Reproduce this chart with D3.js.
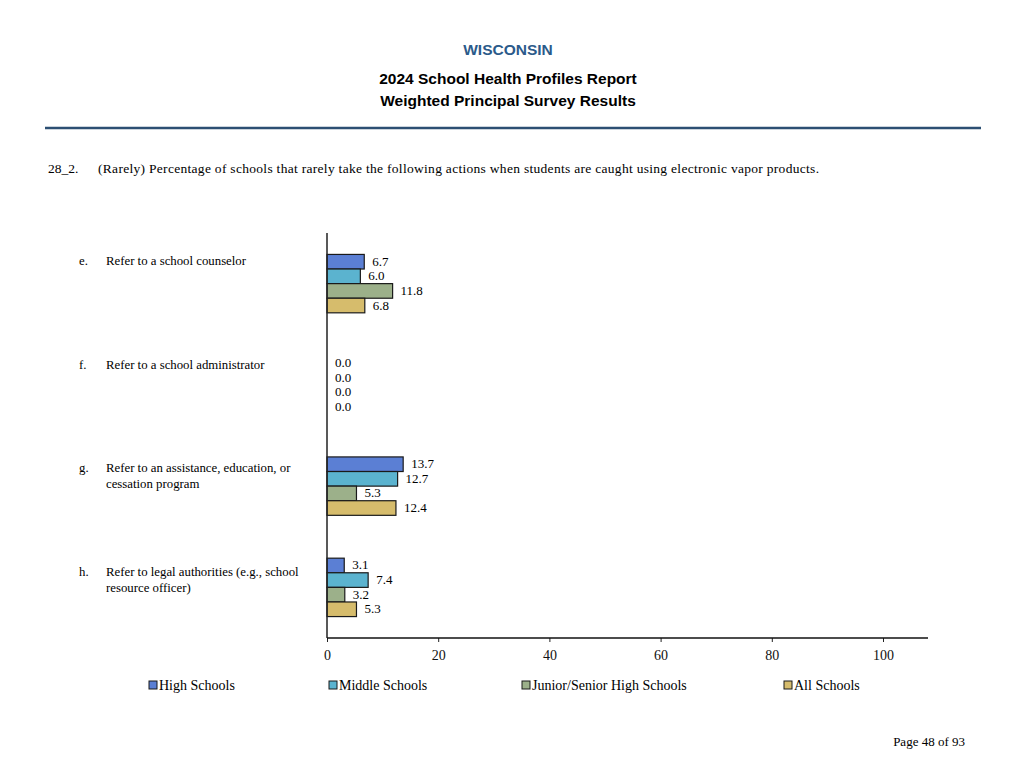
<!DOCTYPE html>
<html>
<head>
<meta charset="utf-8">
<script src="https://d3js.org/d3.v7.min.js"></script>
<style>
  body { margin: 0; background: #fff; }
  svg text { font-family: "Liberation Serif", "Times New Roman", serif; }
</style>
</head>
<body>
<div class="chart1"></div>
<script>
// Chart data
const letters = ['e.', 'f.', 'g.', 'h.'];
const categories = [
    ['Refer to a school counselor'],
    ['Refer to a school administrator'],
    ['Refer to an assistance, education, or', 'cessation program'],
    ['Refer to legal authorities (e.g., school', 'resource officer)']
];
const seriesNames = ['High Schools', 'Middle Schools', 'Junior/Senior High Schools', 'All Schools'];
const highSchools = [6.7, 0.0, 13.7, 3.1];
const middleSchools = [6.0, 0.0, 12.7, 7.4];
const juniorSenior = [11.8, 0.0, 5.3, 3.2];
const allSchools = [6.8, 0.0, 12.4, 5.3];
const tickValues = [0, 20, 40, 60, 80, 100];
const colors = ['#5b7fd4', '#5bb3cf', '#9cb08a', '#d6bc6c'];

createChart('.chart1');

function createChart(chartClass) {
    const width = 1024, height = 768;
    const series = [highSchools, middleSchools, juniorSenior, allSchools];
    const sans = '"Liberation Sans", Arial, sans-serif';

    const svg = d3.select(chartClass)
        .append('svg')
        .attr('width', width)
        .attr('height', height);

    // Header
    const header = [
        { text: 'WISCONSIN', y: 55, fill: '#2b5a8a' },
        { text: '2024 School Health Profiles Report', y: 84, fill: '#000' },
        { text: 'Weighted Principal Survey Results', y: 106, fill: '#000' }
    ];
    header.forEach(function(h) {
        svg.append('text')
            .attr('x', 508).attr('y', h.y)
            .attr('text-anchor', 'middle')
            .style('font-family', sans)
            .style('font-weight', 'bold')
            .style('font-size', '15.5px')
            .attr('fill', h.fill)
            .text(h.text);
    });
    svg.append('line')
        .attr('x1', 45).attr('x2', 981)
        .attr('y1', 128).attr('y2', 128)
        .attr('stroke', '#2c4f73')
        .attr('stroke-width', 2.5);

    // Question
    svg.append('text')
        .attr('x', 48).attr('y', 173)
        .style('font-size', '13.5px')
        .text('28_2.');
    svg.append('text')
        .attr('x', 98).attr('y', 173)
        .style('font-size', '13.5px')
        .attr('textLength', 721)
        .attr('lengthAdjust', 'spacing')
        .text('(Rarely) Percentage of schools that rarely take the following actions when students are caught using electronic vapor products.');

    // Plot area
    const left = 327, top = 233, bottom = 638;
    const x = d3.scaleLinear().domain([0, 100]).range([left, 883]);
    const y = d3.scaleBand().domain(d3.range(categories.length)).range([top, bottom]);
    const barH = 14.6;
    const groupH = barH * series.length;

    // Bars
    series.forEach(function(vals, s) {
        const g = svg.append('g');
        g.selectAll('rect')
            .data(vals)
            .enter().append('rect')
            .attr('x', x(0))
            .attr('y', (d, i) => y(i) + (y.bandwidth() - groupH) / 2 + s * barH)
            .attr('width', d => x(d) - x(0))
            .attr('height', barH)
            .attr('fill', colors[s])
            .attr('stroke', '#1a1a1a')
            .attr('stroke-width', 1.2);
        g.selectAll('text')
            .data(vals)
            .enter().append('text')
            .attr('x', d => x(d) + 8)
            .attr('y', (d, i) => y(i) + (y.bandwidth() - groupH) / 2 + s * barH + barH / 2 + 4)
            .style('font-size', '13px')
            .text(d => d.toFixed(1));
    });

    // Category labels
    categories.forEach(function(lines, i) {
        const y0 = 265 + i * 103.6;
        svg.append('text')
            .attr('x', 79).attr('y', y0)
            .style('font-size', '12.8px')
            .text(letters[i]);
        lines.forEach(function(line, j) {
            svg.append('text')
                .attr('x', 106).attr('y', y0 + j * 16)
                .style('font-size', '12.8px')
                .text(line);
        });
    });

    // Axes
    svg.append('line')
        .attr('x1', left).attr('x2', left)
        .attr('y1', top).attr('y2', bottom)
        .attr('stroke', '#222').attr('stroke-width', 1.5);

    const xAxis = d3.axisBottom(x)
        .tickValues(tickValues)
        .tickSize(4)
        .tickSizeOuter(0)
        .tickPadding(8);
    const ax = svg.append('g')
        .attr('transform', 'translate(0,' + bottom + ')')
        .call(xAxis);
    ax.select('.domain').remove();
    ax.append('line')
        .attr('x1', left).attr('x2', 928)
        .attr('stroke', '#111').attr('stroke-width', 1.5);
    ax.selectAll('.tick line').attr('stroke', '#222');
    ax.selectAll('.tick text')
        .style('font-family', '"Liberation Serif", "Times New Roman", serif')
        .style('font-size', '14px')
        .attr('fill', '#111');

    // Legend
    const legendX = [149, 329, 522, 784];
    seriesNames.forEach(function(name, s) {
        svg.append('rect')
            .attr('x', legendX[s]).attr('y', 681)
            .attr('width', 8).attr('height', 8)
            .attr('fill', colors[s])
            .attr('stroke', '#1a1a1a')
            .attr('stroke-width', 1);
        svg.append('text')
            .attr('x', legendX[s] + 10).attr('y', 690)
            .style('font-size', '14px')
            .text(name);
    });

    // Footer
    svg.append('text')
        .attr('x', 965).attr('y', 746)
        .attr('text-anchor', 'end')
        .style('font-size', '13px')
        .text('Page 48 of 93');
}
</script>
</body>
</html>
